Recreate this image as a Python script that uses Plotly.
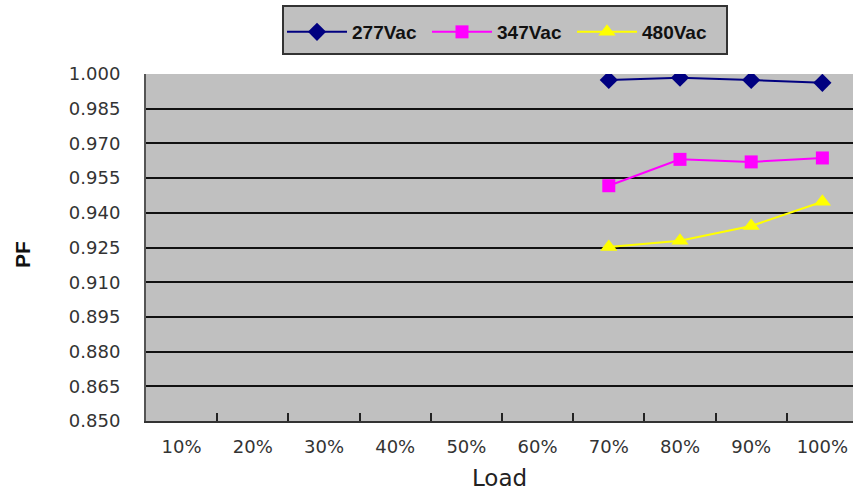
import plotly.graph_objects as go

loads = ["10%", "20%", "30%", "40%", "50%", "60%", "70%", "80%", "90%", "100%"]
load_measured = ["70%", "80%", "90%", "100%"]
pf_277 = [0.9974, 0.9984, 0.9974, 0.9962]
pf_347 = [0.9517, 0.9631, 0.9620, 0.9637]
pf_480 = [0.9252, 0.9279, 0.9343, 0.9448]
y_ticks = [0.850, 0.865, 0.880, 0.895, 0.910, 0.925, 0.940, 0.955, 0.970, 0.985, 1.000]

W, H = 853, 492
L, T, B = 146, 74, 71
PW = W - L
PH = H - T - B

def px_x(x):
    return (x - L) / PW

def px_y(y):
    return (H - B - y) / PH

fig = go.Figure()
fig.add_trace(go.Scatter(x=load_measured, y=pf_277, name="277Vac", mode="lines+markers",
                         line=dict(color="#000080", width=2),
                         marker=dict(symbol="diamond", size=14, color="#000080")))
fig.add_trace(go.Scatter(x=load_measured, y=pf_347, name="347Vac", mode="lines+markers",
                         line=dict(color="#ff00ff", width=2),
                         marker=dict(symbol="square", size=13, color="#ff00ff")))
fig.add_trace(go.Scatter(x=load_measured, y=pf_480, name="480Vac", mode="lines+markers",
                         line=dict(color="#ffff00", width=2),
                         marker=dict(symbol="triangle-up", size=15, color="#ffff00")))

fig.update_layout(
    width=W, height=H,
    margin=dict(l=L, r=0, t=T, b=B, autoexpand=False),
    paper_bgcolor="white",
    plot_bgcolor="#c0c0c0",
    font=dict(family="DejaVu Sans", color="#333333"),
    showlegend=True,
    legend=dict(orientation="h", x=px_x(282), xanchor="left", y=px_y(13), yanchor="top",
                bgcolor="rgba(0,0,0,0)", borderwidth=0,
                font=dict(family="Liberation Sans", size=19, color="#111111", weight="bold"),
                entrywidth=70, itemwidth=60),
    shapes=[dict(type="rect", xref="paper", yref="paper",
                 x0=px_x(283), x1=px_x(727), y0=px_y(54), y1=px_y(6),
                 fillcolor="#c0c0c0", line=dict(color="#333333", width=2), layer="below")],
    xaxis=dict(type="category", categoryorder="array", categoryarray=loads,
               tickvals=loads, ticktext=loads,
               range=[-0.5, 9.43], showgrid=False, tickson="boundaries",
               ticks="inside", ticklen=8, tickcolor="#222222", tickwidth=1.5,
               showline=True, linecolor="#333333", linewidth=2,
               tickfont=dict(size=18, color="#333333"), ticklabelstandoff=8,
               title=dict(text="Load", font=dict(size=23, color="#222222"), standoff=14)),
    yaxis=dict(range=[0.85, 1.0], tickvals=y_ticks, tickformat=".3f",
               showgrid=True, gridcolor="#111111", gridwidth=1.5,
               showline=True, linecolor="#555555", linewidth=2, mirror=False,
               ticks="", tickfont=dict(size=18, color="#333333"), ticklabelstandoff=20,
               zeroline=False),
    annotations=[dict(text="<b>PF</b>", xref="paper", yref="paper",
                      x=px_x(22), y=px_y(255), xanchor="center", yanchor="middle",
                      textangle=-90, showarrow=False,
                      font=dict(family="Liberation Sans", size=21, color="#111111"))],
)

fig.write_html("out.html", config={"displayModeBar": False},
               post_script="document.body.style.margin='0px';")
